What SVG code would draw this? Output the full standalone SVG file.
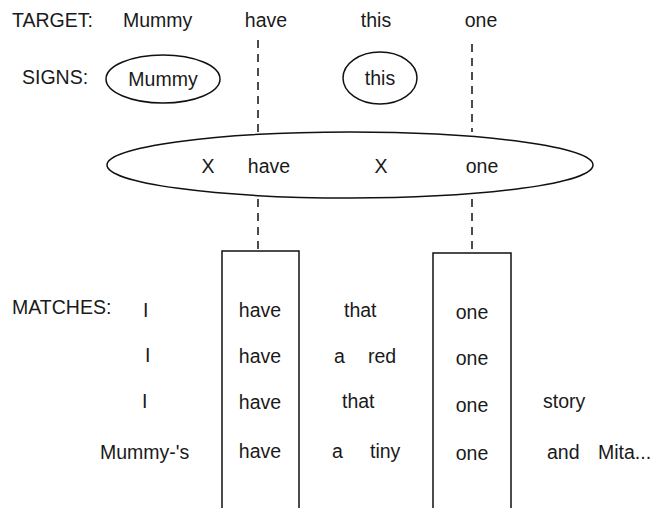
<svg xmlns="http://www.w3.org/2000/svg" width="652" height="508" viewBox="0 0 652 508">
<style>
text{font-family:"Liberation Sans",Arial,Helvetica,sans-serif;font-size:19.5px;fill:#1a1a1a}
.m{text-anchor:middle}
.shape{fill:none;stroke:#111;stroke-width:1.5}
.dash{fill:none;stroke:#111;stroke-width:1.5;stroke-dasharray:8 6}
</style>
<rect width="652" height="508" fill="#fff"/>
<g id="labels">
<text x="12" y="27">TARGET:</text>
<text x="22" y="84">SIGNS:</text>
<text x="12" y="314">MATCHES:</text>
</g>
<g id="target">
<text x="123" y="27">Mummy</text>
<text class="m" x="266" y="27">have</text>
<text class="m" x="376" y="27">this</text>
<text class="m" x="481" y="27">one</text>
</g>
<g id="sign-mummy">
<ellipse class="shape" cx="163" cy="79" rx="57" ry="24"/>
<text class="m" x="163" y="86">Mummy</text>
</g>
<g id="sign-this">
<ellipse class="shape" cx="380" cy="78" rx="37" ry="26"/>
<text class="m" x="380" y="85">this</text>
</g>
<g id="schema">
<ellipse class="shape" cx="350" cy="165" rx="243" ry="33"/>
<text class="m" x="208" y="173">X</text>
<text class="m" x="269" y="173">have</text>
<text class="m" x="381" y="173">X</text>
<text class="m" x="482" y="173">one</text>
</g>
<g id="connectors">
<line class="dash" x1="258" y1="40" x2="258" y2="132"/>
<line class="dash" x1="472" y1="44" x2="472" y2="132"/>
<line class="dash" x1="258" y1="199" x2="258" y2="251"/>
<line class="dash" x1="472" y1="199" x2="472" y2="253"/>
</g>
<g id="col-have">
<rect class="shape" x="222" y="251" width="77" height="270"/>
<text class="m" x="260" y="317">have</text>
<text class="m" x="260" y="363">have</text>
<text class="m" x="260" y="409">have</text>
<text class="m" x="260" y="458">have</text>
</g>
<g id="col-one">
<rect class="shape" x="433" y="253" width="78" height="270"/>
<text class="m" x="472" y="319">one</text>
<text class="m" x="472" y="365">one</text>
<text class="m" x="472" y="412">one</text>
<text class="m" x="472" y="460">one</text>
</g>
<g id="matches">
<text x="143" y="317">I</text>
<text x="145" y="362">I</text>
<text x="142" y="408">I</text>
<text x="100" y="459">Mummy-'s</text>
<text x="344" y="317">that</text>
<text x="334" y="363">a</text>
<text x="368" y="363">red</text>
<text x="342" y="408">that</text>
<text x="332" y="458">a</text>
<text x="370" y="458">tiny</text>
<text x="543" y="408">story</text>
<text x="547" y="459">and</text>
<text x="598" y="459">Mita...</text>
</g>
</svg>
